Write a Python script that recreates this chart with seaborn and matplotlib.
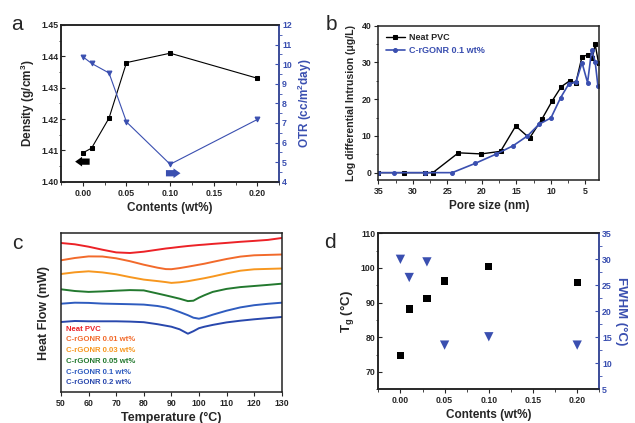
import numpy as np
import pandas as pd
import matplotlib
matplotlib.use('Agg')
import matplotlib.pyplot as plt
import seaborn as sns
from matplotlib.ticker import MultipleLocator, FormatStrFormatter

# ---------------- data ----------------
# panel a
contents_a = [0.00, 0.01, 0.03, 0.05, 0.10, 0.20]
density = [1.4092, 1.4107, 1.4203, 1.4380, 1.4410, 1.4330]
otr = [10.38, 10.04, 9.55, 7.05, 4.89, 7.18]

# panel b
pore_neat = [35.0, 31.3, 28.2, 27.1, 23.4, 20.1, 17.3, 15.1, 13.1, 11.3, 9.8, 8.5, 7.3, 6.4, 5.5, 4.7, 4.0, 3.6, 3.1]
intr_neat = [0.0, 0.0, 0.0, 0.0, 5.4, 5.1, 5.8, 12.7, 9.4, 14.6, 19.6, 23.4, 25.0, 24.4, 31.6, 32.0, 31.2, 34.9, 29.8]
pore_rgo = [35.0, 32.7, 28.2, 24.3, 21.0, 18.0, 15.5, 13.4, 11.7, 10.0, 8.6, 7.4, 6.4, 5.5, 4.7, 4.1, 3.6, 3.2]
intr_rgo = [0.0, 0.0, 0.0, 0.0, 2.5, 5.0, 7.3, 10.0, 13.2, 14.9, 20.4, 24.2, 24.6, 29.9, 24.5, 33.4, 30.2, 23.6]

# panel c
temps = [50, 55, 60, 65, 70, 75, 80, 85, 88, 90, 93, 96, 98, 100, 102, 105, 110, 115, 120, 125, 130]
hf_neat = [148.7, 147.4, 145.0, 142.0, 139.3, 138.7, 140.0, 142.0, 143.2, 143.8, 144.8, 145.7, 146.2, 146.7, 147.1, 147.8, 148.8, 149.9, 150.8, 151.8, 153.7]
hf_001 = [131.4, 133.7, 135.3, 135.2, 133.4, 130.5, 127.0, 124.0, 122.6, 122.5, 123.6, 125.0, 126.0, 127.0, 128.0, 129.8, 132.7, 135.1, 136.4, 136.8, 137.2]
hf_003 = [117.7, 119.4, 120.4, 119.3, 117.4, 114.6, 112.1, 110.6, 109.6, 108.8, 109.4, 110.5, 111.5, 112.5, 113.5, 115.2, 118.3, 121.0, 122.4, 122.8, 123.2]
hf_005 = [102.4, 100.7, 99.8, 100.3, 101.0, 101.6, 101.3, 98.2, 96.3, 95.0, 93.0, 90.6, 91.0, 94.0, 96.5, 99.8, 102.8, 104.6, 105.7, 106.8, 108.0]
hf_01 = [88.0, 89.0, 88.8, 88.1, 87.8, 87.5, 87.1, 85.7, 84.2, 82.6, 79.7, 76.5, 74.0, 73.0, 74.3, 77.0, 81.0, 84.3, 86.5, 87.9, 89.0]
hf_02 = [69.7, 70.7, 70.4, 70.4, 70.4, 70.1, 69.5, 67.5, 66.0, 65.0, 62.4, 58.0, 60.5, 63.5, 65.0, 66.8, 69.3, 71.0, 72.4, 73.6, 74.7]
labels_c = ['Neat PVC', 'C-rGONR 0.01 wt%', 'C-rGONR 0.03 wt%', 'C-rGONR 0.05 wt%', 'C-rGONR 0.1 wt%', 'C-rGONR 0.2 wt%']
colors_c = ['#ec2227', '#f26a2b', '#f7971f', '#23792f', '#2f5cbf', '#2948ad']

# panel d
contents_d = [0.00, 0.01, 0.03, 0.05, 0.10, 0.20]
tg = [74.8, 88.2, 91.2, 96.2, 100.4, 95.9]
fwhm = [30.0, 26.5, 29.5, 13.5, 15.1, 13.5]

# ---------------- style ----------------
sns.set_style('ticks')
plt.rcParams['font.family'] = ['Liberation Sans', 'DejaVu Sans']
plt.rcParams['font.weight'] = 'bold'
plt.rcParams['axes.labelweight'] = 'bold'
plt.rcParams['mathtext.fontset'] = 'custom'
plt.rcParams['mathtext.rm'] = 'Liberation Sans:bold'
plt.rcParams['mathtext.bf'] = 'Liberation Sans:bold'
plt.rcParams['mathtext.it'] = 'Liberation Sans:bold'

BLUE = '#3a4fb0'
TICK = 6.3
LAB = 8.5

fig = plt.figure(figsize=(6.35, 4.23), dpi=100)

def style(ax):
    for s in ax.spines.values():
        s.set_linewidth(1.1)
        s.set_color('#222222')
    ax.tick_params(axis='both', labelsize=TICK, width=0.8, length=3, pad=2)
    ax.tick_params(axis='x', direction='out')
    ax.tick_params(axis='y', direction='in')
    ax.tick_params(which='minor', width=0.6, length=1.8)

# ---------- panel a ----------
axa = fig.add_axes([61/635, 1-181.7/423, 218.3/635, 156.7/423])
dfa = pd.DataFrame({'c': contents_a, 'd': density, 'o': otr})
sns.lineplot(data=dfa, x='c', y='d', ax=axa, color='black', marker='s', markersize=3,
             markeredgecolor='black', linewidth=0.8)
axa.set_xlim(-0.025, 0.225)
axa.set_ylim(1.40, 1.45)
axa.xaxis.set_major_locator(MultipleLocator(0.05))
axa.xaxis.set_minor_locator(MultipleLocator(0.025))
axa.yaxis.set_major_locator(MultipleLocator(0.01))
axa.yaxis.set_minor_locator(MultipleLocator(0.005))
axa.xaxis.set_major_formatter(FormatStrFormatter('%.2f'))
axa.yaxis.set_major_formatter(FormatStrFormatter('%.2f'))
axa.set_xlabel('Contents (wt%)', fontsize=LAB, labelpad=3)
axa.set_ylabel('Density (g/cm$^3$)', fontsize=LAB, labelpad=3)
style(axa)
axa2 = axa.twinx()
sns.lineplot(data=dfa, x='c', y='o', ax=axa2, color=BLUE, marker='v', markersize=3.5,
             markeredgecolor=BLUE, linewidth=0.8)
axa2.set_ylim(4, 12)
axa2.yaxis.set_major_locator(MultipleLocator(1))
axa2.yaxis.set_minor_locator(MultipleLocator(0.5))
axa2.set_ylabel('OTR (cc/m$^2$day)', fontsize=LAB, color=BLUE, labelpad=3)
style(axa2)
axa2.spines['right'].set_color(BLUE)
axa2.tick_params(axis='y', colors=BLUE, which='both')
axa.annotate('', xy=(-0.012, 1.4064), xytext=(0.011, 1.4064),
             arrowprops=dict(arrowstyle='simple,head_length=0.5,head_width=0.7,tail_width=0.45',
                             color='black', lw=0))
axa.annotate('', xy=(0.115, 1.4027), xytext=(0.092, 1.4027),
             arrowprops=dict(arrowstyle='simple,head_length=0.5,head_width=0.7,tail_width=0.45',
                             color=BLUE, lw=0))

# ---------- panel b ----------
axb = fig.add_axes([378.3/635, 1-180/423, 221/635, 154.3/423])
dfb1 = pd.DataFrame({'p': pore_neat, 'v': intr_neat})
dfb2 = pd.DataFrame({'p': pore_rgo, 'v': intr_rgo})
sns.lineplot(data=dfb1, x='p', y='v', ax=axb, color='black', marker='s', markersize=2.8,
             markeredgecolor='black', linewidth=1.0, sort=False, label='Neat PVC')
sns.lineplot(data=dfb2, x='p', y='v', ax=axb, color=BLUE, marker='o', markersize=2.8,
             markeredgecolor=BLUE, linewidth=1.2, sort=False, label='C-rGONR 0.1 wt%')
axb.set_xlim(35, 3)
axb.set_ylim(-2, 40)
axb.xaxis.set_major_locator(MultipleLocator(5))
axb.xaxis.set_minor_locator(MultipleLocator(2.5))
axb.yaxis.set_major_locator(MultipleLocator(10))
axb.yaxis.set_minor_locator(MultipleLocator(5))
axb.set_xlabel('Pore size (nm)', fontsize=LAB, labelpad=3)
axb.set_ylabel('Log differential Intrusion (μg/L)', fontsize=7.6, labelpad=4)
style(axb)
axb.tick_params(axis='y', direction='out')
lg = axb.legend(loc='upper left', frameon=False, handlelength=2.2,
                handletextpad=0.4, labelspacing=0.5, borderaxespad=0.4,
                prop={'weight': 'bold', 'size': 6.5})
lg.get_texts()[1].set_color(BLUE)

# ---------- panel c ----------
axc = fig.add_axes([61/635, 1-391.7/423, 220.7/635, 158.4/423])
series_c = [hf_neat, hf_001, hf_003, hf_005, hf_01, hf_02]
rows = []
for lab, vals in zip(labels_c, series_c):
    for t, v in zip(temps, vals):
        rows.append({'T': t, 'HF': v, 'sample': lab})
dfc = pd.DataFrame(rows)
sns.lineplot(data=dfc, x='T', y='HF', hue='sample', hue_order=labels_c,
             palette=colors_c, ax=axc, linewidth=1.4)
axc.set_xlim(50, 130)
axc.set_ylim(0, 158.4)
axc.xaxis.set_major_locator(MultipleLocator(10))
axc.set_yticks([])
axc.set_xlabel('Temperature (°C)', fontsize=LAB + 0.5, labelpad=3)
axc.set_ylabel('Heat Flow (mW)', fontsize=LAB + 0.5, labelpad=8)
style(axc)
lgc = axc.legend(loc='lower left', frameon=False, handlelength=0, handletextpad=0,
                 labelspacing=0.42, borderaxespad=0.3, labelcolor='linecolor',
                 prop={'weight': 'bold', 'size': 5.6})
for h in lgc.legend_handles:
    h.set_visible(False)

# ---------- panel d ----------
axd = fig.add_axes([378.3/635, 1-389.3/423, 221/635, 156/423])
dfd = pd.DataFrame({'c': contents_d, 'tg': tg, 'fw': fwhm})
sns.scatterplot(data=dfd, x='c', y='tg', ax=axd, color='black', marker='s', s=28,
                edgecolor='none')
axd.set_xlim(-0.025, 0.225)
axd.set_ylim(65, 110)
axd.xaxis.set_major_locator(MultipleLocator(0.05))
axd.xaxis.set_minor_locator(MultipleLocator(0.025))
axd.yaxis.set_major_locator(MultipleLocator(10))
axd.yaxis.set_minor_locator(MultipleLocator(5))
axd.xaxis.set_major_formatter(FormatStrFormatter('%.2f'))
axd.set_xlabel('Contents (wt%)', fontsize=LAB, labelpad=3)
axd.set_ylabel('T$_g$ (°C)', fontsize=LAB + 1, labelpad=3)
style(axd)
axd2 = axd.twinx()
sns.scatterplot(data=dfd, x='c', y='fw', ax=axd2, color=BLUE, marker='v', s=45,
                edgecolor='none')
axd2.set_ylim(5, 35)
axd2.yaxis.set_major_locator(MultipleLocator(5))
axd2.yaxis.set_minor_locator(MultipleLocator(2.5))
axd2.set_ylabel('FWHM (°C)', fontsize=LAB + 1, color=BLUE, rotation=270, labelpad=11)
style(axd2)
axd2.spines['right'].set_color(BLUE)
axd2.tick_params(axis='y', colors=BLUE, which='both')

# panel letters
for lab, (x, y) in zip('abcd', [(17, 25), (331, 25), (17, 243), (330, 242)]):
    fig.text(x/635, 1-y/423, lab, fontsize=15, ha='center', va='center', weight='normal')

fig.savefig('out.png', dpi=100)
